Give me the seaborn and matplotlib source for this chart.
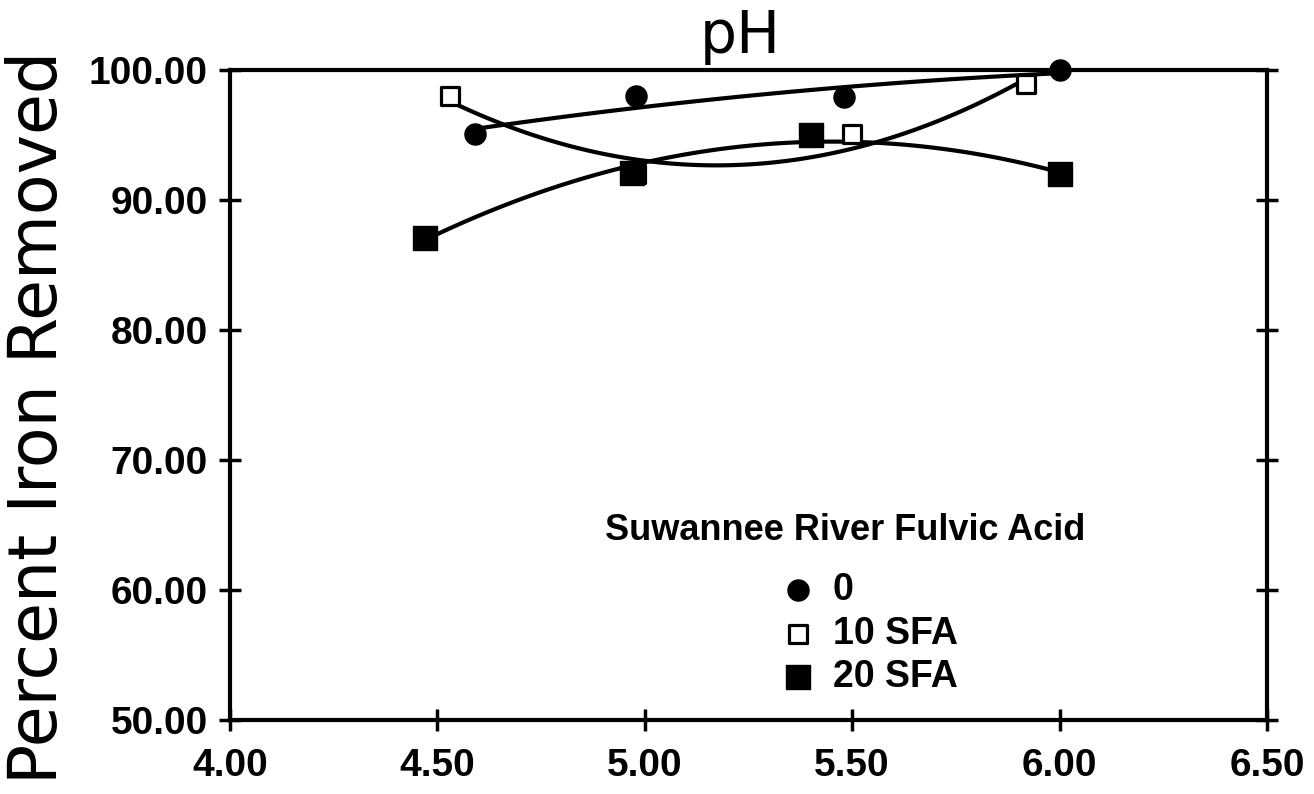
import matplotlib
matplotlib.use("Agg")
import matplotlib.pyplot as plt
import seaborn as sns

# ---- data ----
series_labels = ["0", "10 SFA", "20 SFA"]
ph_0 = [4.59, 4.98, 5.48, 6.00]
fe_0 = [95.1, 98.0, 97.9, 100.0]
ph_10 = [4.53, 4.98, 5.50, 5.92]
fe_10 = [98.0, 92.0, 95.1, 98.9]
ph_20 = [4.47, 4.97, 5.40, 6.00]
fe_20 = [87.1, 92.1, 95.0, 92.0]
x_ticks = [4.0, 4.5, 5.0, 5.5, 6.0, 6.5]
y_ticks = [50, 60, 70, 80, 90, 100]

sns.set_style("ticks")
plt.rcParams["font.family"] = ["Liberation Sans", "DejaVu Sans"]
plt.rcParams["font.weight"] = "bold"
for k in ["text.color", "axes.labelcolor", "xtick.color", "ytick.color",
          "axes.edgecolor"]:
    plt.rcParams[k] = "black"

fig = plt.figure(figsize=(13.14, 7.94), dpi=100)
ax = fig.add_axes([0.175, 0.0932, 0.9642 - 0.175, 0.9118 - 0.0932])

# fitted quadratic curves
for px, fy in [(ph_0, fe_0), (ph_10, fe_10), (ph_20, fe_20)]:
    sns.regplot(x=px, y=fy, order=2, ci=None, scatter=False, ax=ax,
                color="black", truncate=True,
                line_kws={"lw": 3, "zorder": 2, "solid_capstyle": "round"})

# markers
sns.scatterplot(x=ph_10, y=fe_10, ax=ax, marker="s", s=170, color="white",
                edgecolor="black", linewidth=2.3, zorder=3, clip_on=False,
                label=series_labels[1])
sns.scatterplot(x=ph_0, y=fe_0, ax=ax, marker="o", s=230, color="black",
                edgecolor="black", linewidth=1, zorder=4, clip_on=False,
                label=series_labels[0])
sns.scatterplot(x=ph_20, y=fe_20, ax=ax, marker="s", s=290, color="black",
                edgecolor="black", linewidth=1, zorder=4, clip_on=False,
                label=series_labels[2])

ax.set_xlim(4.0, 6.5)
ax.set_ylim(50, 100)
ax.set_xticks(x_ticks)
ax.set_yticks(y_ticks)
ax.set_xticklabels([f"{v:.2f}" for v in x_ticks])
ax.set_yticklabels([f"{v:.2f}" for v in y_ticks])
ax.set_xlabel("")

for sp in ax.spines.values():
    sp.set_visible(True)
    sp.set_linewidth(3)
    sp.set_color("black")

ax.tick_params(axis="both", direction="inout", length=16, width=2.5,
               colors="black", labelsize=28)
ax.tick_params(axis="y", right=True, labelright=False, pad=8)
ax.tick_params(axis="x", top=False, pad=12)

ax.set_ylabel("Percent Iron Removed", fontsize=48, fontweight="normal",
              family=["DejaVu Sans"])
ax.yaxis.set_label_coords(-0.153, 0.465)
ax.set_title("pH", fontsize=42, fontweight="normal", family=["DejaVu Sans"],
             x=0.492, pad=12)

# legend
handles, labels = ax.get_legend_handles_labels()
order = [labels.index(l) for l in series_labels]
leg = ax.legend([handles[i] for i in order], [labels[i] for i in order],
                loc="upper left", bbox_to_anchor=(779.5 / 1314, 1 - 572 / 794),
                bbox_transform=fig.transFigure, frameon=False, fontsize=27,
                handlelength=1.0, handletextpad=0.42, borderpad=0,
                labelspacing=0.2, borderaxespad=0)
fig.text(845 / 1314, 1 - 540 / 794, "Suwannee River Fulvic Acid",
         ha="center", va="baseline", fontsize=26, fontweight="bold")

fig.savefig("out.png", dpi=100)
